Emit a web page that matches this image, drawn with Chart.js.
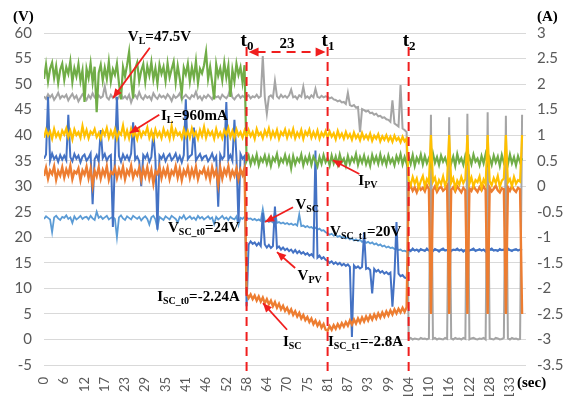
<!DOCTYPE html>
<html>
<head>
<meta charset="utf-8">
<script src="https://cdn.jsdelivr.net/npm/chart.js@4.4.0/dist/chart.umd.min.js"></script>
<style>
  html, body { margin: 0; padding: 0; background: #fff; }
</style>
</head>
<body>
<canvas id="graph" width="565" height="396"></canvas>
<script>
/* data: one sample every 0.58 s */
var sampleStep = 0.58;
var tickStep = 5.8;
var tickLabels = ["0","6","12","17","23","29","35","41","46","52","58","64","70","75","81","87","93","99","104","110","116","122","128","133"];
var eventTimes = [58, 81.2, 104.4];

// V_L (V, left axis)
var vL = [
  47.6,47.1,48.0,47.4,47.9,46.9,47.5,48.3,47.2,47.7,
  47.4,47.9,46.8,47.5,48.1,47.2,47.7,46.6,47.3,48.0,
  47.5,46.9,47.8,47.2,48.2,47.4,47.0,47.8,47.3,47.6,
  49.6,47.4,47.0,47.9,47.3,47.7,46.8,47.5,48.1,47.2,
  47.6,47.1,47.9,46.4,47.5,47.8,47.2,48.4,47.4,47.0,
  47.8,47.3,47.6,46.9,48.2,47.5,47.1,47.9,47.4,47.7,
  47.2,48.0,47.5,46.7,47.8,47.3,47.6,48.2,47.0,47.5,
  47.9,47.4,47.1,47.8,47.5,48.5,47.2,47.6,46.9,47.7,
  47.3,47.9,47.5,47.0,47.8,47.4,47.6,47.1,47.9,47.5,
  47.2,47.8,49.2,47.4,47.0,47.6,47.9,47.3,47.7,47.4,
  47.5,47.8,47.2,47.6,47.4,47.9,47.3,47.6,55.5,47.4,
  44.2,47.5,47.8,47.3,50.6,47.6,47.2,47.9,47.4,47.7,
  47.3,47.8,48.9,47.4,47.6,47.1,47.8,47.5,49.5,47.3,
  47.6,47.2,47.8,47.4,49.1,47.5,47.3,47.7,47.4,47.6,
  47.5,47.2,47.4,47.0,46.9,46.6,46.8,46.4,46.5,46.1,
  48.3,45.9,45.7,45.9,45.4,45.5,40.6,45.1,44.9,44.6,
  44.8,44.3,44.4,44.0,44.2,43.7,43.8,43.4,43.5,43.1,
  43.0,42.6,46.8,42.3,42.0,41.7,49.8,41.3,41.0,40.6,
  0.1,0.3,0.0,0.2,0.1,0.0,0.3,0.1,0.2,0.0,
  0.2,44.0,0.1,0.3,0.0,0.2,0.1,0.0,0.3,0.1,
  43.5,0.2,0.0,0.3,0.1,0.2,0.0,0.3,0.1,44.2,
  0.0,0.2,0.3,0.1,0.0,0.2,0.1,0.3,0.0,44.5,
  0.2,0.1,0.0,0.3,0.2,0.0,0.1,0.3,43.8,0.2,
  0.0,0.3,0.1,0.2,0.0,0.1,44.0
];

// V_PV (V, left axis)
var vPV = [
  35.4,36.2,47.5,35.0,36.4,35.3,35.9,34.8,36.1,35.2,
  36.0,35.1,44.0,35.7,34.9,36.3,35.4,36.0,34.7,35.8,
  36.2,35.0,35.6,36.4,26.5,35.3,36.1,34.9,41.0,35.5,
  36.3,35.0,35.8,36.1,22.0,35.4,47.5,35.9,34.8,36.2,
  35.3,36.0,35.1,36.4,42.5,35.2,35.8,34.9,30.0,36.1,
  35.5,36.3,34.8,35.7,40.5,35.2,21.5,36.0,35.4,36.2,
  34.9,35.8,36.3,35.1,35.6,36.4,35.0,35.9,34.7,36.1,
  47.0,35.3,35.9,36.2,41.5,35.0,35.7,36.3,35.2,35.8,
  36.0,34.9,35.5,36.4,35.1,35.8,26.0,36.2,35.3,35.9,
  46.5,35.2,36.1,35.0,43.0,35.7,22.8,36.3,35.4,35.9,
  6.5,18.6,19.2,18.7,19.0,18.4,18.9,18.3,24.8,18.6,
  18.0,18.5,17.9,18.3,26.0,17.9,18.2,17.6,18.0,17.5,
  17.8,17.3,17.6,17.0,17.5,16.9,17.3,16.8,17.1,16.6,
  16.9,16.4,16.7,16.2,37.0,16.0,16.4,15.8,16.1,15.6,
  15.4,15.0,15.3,14.8,15.1,14.7,15.0,14.5,14.8,14.4,
  14.7,14.2,0.5,14.5,14.0,14.3,13.9,14.2,21.0,13.8,
  14.0,13.6,9.0,13.8,13.3,13.6,13.1,13.4,12.9,13.2,
  12.8,13.1,6.4,12.6,23.0,12.9,12.4,12.6,12.1,12.0,
  17.6,17.3,17.8,17.4,17.6,17.2,17.7,17.5,17.3,17.8,
  17.4,17.6,17.3,17.7,17.5,17.2,17.6,17.8,17.4,17.5,
  17.7,17.3,17.6,17.5,17.8,17.4,17.6,17.2,17.5,17.7,
  17.4,17.6,17.8,17.3,17.5,17.7,17.4,17.6,17.2,17.5,
  17.6,17.8,17.4,17.5,17.3,17.7,17.5,17.6,17.4,17.8,
  17.5,17.3,17.6,17.7,17.4,17.6,17.5
];

// V_SC (V, left axis)
var vSC = [
  23.6,24.1,23.8,23.5,21.0,23.9,24.2,23.7,23.4,24.0,
  23.8,24.3,23.6,23.9,22.8,24.1,23.5,23.8,24.2,23.6,
  23.9,24.0,23.5,24.2,23.7,23.4,25.0,23.8,24.1,23.6,
  23.9,24.2,23.5,23.8,24.0,23.6,20.0,23.9,24.3,23.7,
  23.4,24.1,23.8,23.5,24.2,23.9,23.6,24.0,23.3,23.8,
  24.1,23.6,22.5,23.9,24.2,23.5,21.8,24.0,23.7,23.4,
  24.1,23.8,23.5,24.2,23.9,23.6,22.9,24.0,23.7,24.3,
  23.5,23.8,24.1,23.6,23.9,23.4,24.2,23.7,24.0,23.5,
  23.8,24.1,23.6,23.9,22.6,24.0,23.5,23.8,24.2,23.6,
  23.9,23.4,24.0,23.7,23.5,24.1,22.4,23.8,23.6,24.0,
  23.8,23.6,23.7,23.4,23.6,23.3,23.5,23.2,25.5,23.1,
  23.3,23.0,23.2,22.9,25.0,22.8,23.0,22.7,22.9,22.6,
  22.8,22.5,22.7,22.4,22.6,22.3,24.5,22.2,22.3,22.0,
  22.2,21.9,22.0,21.7,21.9,21.5,21.7,21.3,21.4,21.0,
  20.8,20.5,20.7,20.3,20.5,20.1,20.3,19.9,20.1,19.8,
  20.0,19.6,19.8,19.4,19.6,19.3,19.5,19.1,19.3,18.9,
  19.1,18.8,19.0,18.6,18.8,18.4,18.6,18.2,18.4,18.0,
  18.2,17.9,18.0,17.7,17.8,17.5,17.6,17.3,17.4,17.2,
  17.5,17.5,17.5,17.5,17.5,17.5,17.5,17.5,17.5,17.5,
  17.5,17.5,17.5,17.5,17.5,17.5,17.5,17.5,17.5,17.5,
  17.5,17.5,17.5,17.5,17.5,17.5,17.5,17.5,17.5,17.5,
  17.5,17.5,17.5,17.5,17.5,17.5,17.5,17.5,17.5,17.5,
  17.5,17.5,17.5,17.5,17.5,17.5,17.5,17.5,17.5,17.5,
  17.5,17.5,17.5,17.5,17.5,17.5,17.5
];

// I_L (A, right axis)
var iL = [
  0.95,1.10,0.99,1.07,0.93,1.12,0.97,1.05,0.94,1.09,
  1.01,1.13,0.96,1.08,0.92,1.11,1.00,1.06,0.95,1.18,
  0.98,1.10,0.94,1.07,1.02,1.12,0.96,1.04,0.93,1.09,
  1.00,1.14,0.95,1.08,0.97,1.11,0.93,1.06,1.01,1.19,
  0.96,1.09,0.94,1.12,0.99,1.05,0.92,1.10,0.97,1.07,
  1.02,1.15,0.95,1.08,0.93,1.11,0.98,1.06,0.94,1.12,
  0.99,1.07,0.93,1.18,0.96,1.10,1.00,1.05,0.94,1.11,
  0.97,1.08,0.95,1.13,0.99,1.06,0.93,1.10,0.98,1.16,
  0.95,1.09,1.00,1.07,0.93,1.12,0.97,1.05,0.94,1.10,
  1.01,1.14,0.96,1.08,0.94,1.11,0.99,1.06,0.95,1.09,
  0.96,1.10,0.98,1.06,0.93,1.12,1.00,1.05,0.94,1.09,
  0.99,1.13,0.95,1.07,0.97,1.10,0.93,1.06,1.00,1.11,
  0.95,1.08,0.98,1.12,0.94,1.05,0.97,1.10,0.93,1.07,
  1.00,1.11,0.95,1.06,0.96,1.09,0.93,1.05,0.98,1.08,
  0.95,1.07,0.97,1.04,0.92,1.08,0.96,1.03,0.93,1.06,
  0.95,1.02,0.91,1.05,0.94,1.01,0.90,1.04,0.93,1.00,
  0.92,1.03,0.89,0.99,0.93,1.02,0.88,0.98,0.91,1.00,
  0.89,0.97,0.87,0.99,0.90,0.95,0.86,0.97,0.88,0.93,
  0.12,0.02,0.18,0.05,0.15,-0.03,0.10,0.20,0.00,0.14,
  0.06,1.00,0.09,0.17,-0.02,0.12,0.04,0.19,0.01,0.13,
  1.00,0.07,0.16,-0.04,0.11,0.03,0.18,0.06,0.14,1.00,
  0.05,0.17,0.00,0.12,0.08,0.19,-0.03,0.13,0.04,1.00,
  0.10,0.02,0.16,0.06,0.20,-0.01,0.11,0.15,1.00,0.07,
  0.14,0.00,0.18,0.05,0.12,0.09,1.00
];

// I_PV (A, right axis)
var iPV = [
  2.10,2.38,2.05,2.30,2.42,2.12,2.35,2.02,2.28,2.40,
  2.08,2.33,2.20,2.45,2.04,2.31,2.15,2.39,2.06,2.27,
  1.65,2.30,2.12,2.41,2.03,2.34,1.45,2.22,2.38,2.07,
  2.32,2.10,2.44,2.05,2.29,2.18,2.40,2.02,1.70,2.33,
  2.15,2.37,2.63,2.08,1.72,2.30,2.42,2.06,2.26,2.39,
  2.04,2.35,2.17,2.43,2.09,2.31,2.01,2.38,2.20,2.34,
  2.06,2.41,2.13,2.29,2.44,2.03,2.36,2.11,1.80,2.32,
  2.19,2.40,2.05,2.33,2.12,2.45,2.02,2.30,2.21,2.37,
  2.63,2.10,2.34,2.04,1.70,2.39,2.16,2.31,2.07,2.42,
  2.13,2.36,1.75,2.28,2.05,2.40,2.18,2.33,2.03,2.37,
  0.50,0.60,0.43,0.57,0.46,0.62,0.41,0.55,0.48,0.60,
  0.44,0.58,0.40,0.56,0.49,0.63,0.42,0.54,0.47,0.61,
  0.45,0.57,0.35,0.59,0.43,0.55,0.48,0.62,0.41,0.56,
  0.46,0.60,0.42,0.58,0.50,0.39,0.57,0.44,0.61,0.47,
  0.55,0.41,0.60,0.45,0.58,0.43,0.62,0.47,0.54,0.40,
  0.59,0.44,0.56,0.48,0.63,0.42,0.57,0.46,0.60,0.43,
  0.55,0.40,0.61,0.47,0.58,0.44,0.62,0.45,0.56,0.42,
  0.60,0.46,0.54,0.41,0.59,0.48,0.63,0.43,0.57,0.45,
  0.58,0.44,0.61,0.40,0.56,0.47,0.62,0.43,0.59,0.45,
  0.55,0.41,0.64,0.46,0.57,0.42,0.60,0.48,0.56,0.43,
  0.61,0.45,0.58,0.40,0.63,0.47,0.55,0.42,0.60,0.46,
  0.57,0.43,0.62,0.48,0.54,0.41,0.59,0.45,0.63,0.44,
  0.56,0.42,0.60,0.47,0.58,0.40,0.61,0.46,0.55,0.43,
  0.62,0.45,0.57,0.41,0.59,0.47,0.55
];

// I_SC (A, right axis)
var iSC = [
  0.20,0.36,0.15,0.31,0.24,0.39,0.13,0.30,0.21,0.37,
  0.17,0.33,0.22,0.40,0.14,0.29,0.25,0.35,0.12,0.31,
  0.23,0.38,0.16,0.34,0.02,0.30,0.19,0.37,0.15,0.32,
  0.21,0.39,0.13,0.28,0.24,0.36,0.16,0.33,0.20,0.38,
  0.14,0.31,0.23,0.40,0.17,0.30,0.22,0.36,0.13,0.34,
  0.19,0.37,0.15,0.32,0.05,0.29,0.24,0.38,0.16,0.33,
  0.21,0.36,0.14,0.30,0.23,0.39,0.17,0.34,0.12,0.31,
  0.22,0.37,0.16,0.33,0.20,0.38,0.14,0.29,0.25,0.35,
  0.18,0.32,0.13,0.37,0.21,0.31,0.03,0.36,0.15,0.33,
  0.23,0.39,0.17,0.30,0.20,0.35,0.14,0.32,0.22,0.36,
  -2.10,-2.19,-2.12,-2.21,-2.14,-2.24,-2.16,-2.26,-2.18,-2.29,
  -2.21,-2.31,-2.24,-2.35,-2.27,-2.38,-2.30,-2.41,-2.34,-2.44,
  -2.38,-2.48,-2.41,-2.52,-2.45,-2.55,-2.48,-2.59,-2.52,-2.62,
  -2.56,-2.66,-2.59,-2.70,-2.63,-2.73,-2.66,-2.77,-2.70,-2.81,
  -2.83,-2.74,-2.81,-2.72,-2.79,-2.70,-2.77,-2.68,-2.75,-2.66,
  -2.73,-2.63,-2.71,-2.61,-2.69,-2.59,-2.67,-2.57,-2.65,-2.55,
  -2.63,-2.53,-2.61,-2.51,-2.59,-2.49,-2.57,-2.47,-2.55,-2.45,
  -2.53,-2.43,-2.51,-2.41,-2.49,-2.40,-2.47,-2.38,-2.46,-2.37,
  -0.05,0.01,-0.09,-0.02,-0.12,0.00,-0.07,-0.03,-0.10,0.02,
  -0.06,-2.50,-0.08,0.00,-0.11,-0.04,-0.01,-0.09,-0.05,0.01,
  -2.50,-0.07,-0.02,-0.10,0.00,-0.06,-0.12,-0.03,-0.08,-2.50,
  -0.04,-0.09,0.01,-0.06,-0.11,-0.02,-0.08,0.00,-0.07,-2.50,
  -0.03,-0.10,-0.05,0.01,-0.08,-0.12,-0.04,-0.06,-2.50,-0.02,
  -0.09,0.00,-0.07,-0.11,-0.03,-0.06,-2.50
];

var time = vL.map(function (_, k) { return +(k * sampleStep).toFixed(2); });
function pts(arr) { return arr.map(function (v, k) { return { x: time[k], y: v }; }); }

var red = "#f01e1e";
var serif = '"Liberation Serif", "Times New Roman", serif';

function richText(ctx, parts, x, y, size) {
  var cx = x;
  parts.forEach(function (p) {
    var fs = p[1] ? Math.round(size * 0.68) : size;
    ctx.font = "bold " + fs + "px " + serif;
    ctx.fillText(p[0], cx, p[1] ? y + size * 0.28 : y);
    cx += ctx.measureText(p[0]).width;
  });
}

function arrowHead(ctx, x1, y1, x2, y2, len, half) {
  var a = Math.atan2(y2 - y1, x2 - x1);
  ctx.beginPath();
  ctx.moveTo(x2, y2);
  ctx.lineTo(x2 - len * Math.cos(a) + half * Math.sin(a), y2 - len * Math.sin(a) - half * Math.cos(a));
  ctx.lineTo(x2 - len * Math.cos(a) - half * Math.sin(a), y2 - len * Math.sin(a) + half * Math.cos(a));
  ctx.closePath();
  ctx.fill();
}

// labels placed in data units (seconds, volts)
var notes = [
  { parts: [["V",0],["L",1],["=47.5V",0]], at: [24.0, 59.2], from: [30.3, 57.1], to: [19.8, 47.3] },
  { parts: [["I",0],["L",1],["=960mA",0]], at: [33.5, 43.8], from: [33.0, 44.0], to: [24.6, 40.4] },
  { parts: [["I",0],["PV",1]], at: [90.0, 31.0], from: [90.3, 32.4], to: [82.7, 35.1] },
  { parts: [["V",0],["SC",1]], at: [72.0, 26.3], from: [71.3, 25.9], to: [63.3, 23.0] },
  { parts: [["V",0],["PV",1]], at: [72.6, 12.4], from: [71.9, 14.0], to: [66.7, 17.1] },
  { parts: [["V",0],["SC_t0",1],["=24V",0]], at: [35.5, 21.8] },
  { parts: [["V",0],["SC_t1",1],["=20V",0]], at: [81.9, 21.0] },
  { parts: [["I",0],["SC_t0",1],["=-2.24A",0]], at: [32.4, 8.3] },
  { parts: [["I",0],["SC_t1",1],["=-2.8A",0]], at: [81.3, -0.6] },
  { parts: [["I",0],["SC",1]], at: [68.4, -0.6], from: [69.6, 1.9], to: [62.7, 7.1] }
];

var notePlugin = {
  id: "notes",
  afterDraw: function (chart) {
    var ctx = chart.ctx, area = chart.chartArea;
    var xs = chart.scales.x, ys = chart.scales.y;
    function px(t) { return xs.getPixelForValue(t); }
    function py(v) { return ys.getPixelForValue(v); }
    ctx.save();

    // dashed event lines
    ctx.strokeStyle = red;
    ctx.fillStyle = red;
    ctx.lineWidth = 2;
    ctx.setLineDash([9, 6]);
    eventTimes.forEach(function (t) {
      ctx.beginPath();
      ctx.moveTo(px(t), area.top + 14);
      ctx.lineTo(px(t), area.bottom + 8);
      ctx.stroke();
    });

    // interval arrow t0 -> t1
    var ay = area.top + 19, ax0 = px(eventTimes[0]) + 2, ax1 = px(eventTimes[1]) - 2;
    ctx.beginPath();
    ctx.moveTo(ax0 + 8, ay);
    ctx.lineTo(ax1 - 8, ay);
    ctx.stroke();
    ctx.setLineDash([]);
    arrowHead(ctx, ax1 - 20, ay, ax1, ay, 10, 4.5);
    arrowHead(ctx, ax0 + 20, ay, ax0, ay, 10, 4.5);

    ctx.fillStyle = "#000";
    ctx.textBaseline = "middle";
    ctx.textAlign = "center";
    ctx.font = "bold 15px " + serif;
    ctx.fillText(String(Math.round(eventTimes[1] - eventTimes[0])), (ax0 + ax1) / 2, area.top + 11);

    ctx.textAlign = "left";
    eventTimes.forEach(function (t, i) {
      richText(ctx, [["t",0],[String(i),1]], px(t) - 6, area.top + 8, 19);
    });

    // arrows and text notes
    notes.forEach(function (n) {
      if (n.from) {
        var x1 = px(n.from[0]), y1 = py(n.from[1]), x2 = px(n.to[0]), y2 = py(n.to[1]);
        ctx.strokeStyle = red;
        ctx.fillStyle = red;
        ctx.lineWidth = 1.8;
        ctx.beginPath();
        ctx.moveTo(x1, y1);
        ctx.lineTo(x2, y2);
        ctx.stroke();
        arrowHead(ctx, x1, y1, x2, y2, 9, 4);
      }
      ctx.fillStyle = "#000";
      richText(ctx, n.parts, px(n.at[0]), py(n.at[1]), 15);
    });

    // axis units
    ctx.font = "bold 15px " + serif;
    ctx.fillText("(V)", 13, 17);
    ctx.fillText("(A)", 537, 17);
    ctx.fillText("(sec)", 517, 383);
    ctx.restore();
  }
};

function line(label, arr, color, axis, width) {
  return {
    label: label,
    data: pts(arr),
    yAxisID: axis,
    borderColor: color,
    backgroundColor: color,
    borderWidth: width,
    pointRadius: 0,
    tension: 0,
    fill: false
  };
}

var tickFont = { family: "Lato", size: 15 };
var graph = document.getElementById("graph").getContext("2d");

var myChart = new Chart(graph, {
  type: "line",
  data: {
    datasets: [
      line("I_L", iL, "#ffc000", "y1", 2.2),
      line("I_PV", iPV, "#70ad47", "y1", 2.2),
      line("I_SC", iSC, "#ed7d31", "y1", 2.4),
      line("V_PV", vPV, "#4472c4", "y", 2),
      line("V_SC", vSC, "#5b9bd5", "y", 1.8),
      line("V_L", vL, "#a5a5a5", "y", 2)
    ]
  },
  options: {
    responsive: false,
    animation: false,
    devicePixelRatio: 1,
    layout: { padding: { top: 33, left: 0, right: 0, bottom: 0 } },
    plugins: { legend: { display: false }, tooltip: { enabled: false } },
    scales: {
      x: {
        type: "linear",
        min: 0,
        max: 138,
        grid: { display: false, drawTicks: false },
        border: { display: false },
        afterBuildTicks: function (s) {
          s.ticks = tickLabels.map(function (l, i) { return { value: i * tickStep }; });
        },
        afterFit: function (s) { s.height = 31; },
        ticks: {
          autoSkip: false,
          minRotation: 90,
          maxRotation: 90,
          padding: 12,
          color: "#595959",
          font: { family: "Lato", size: 13 },
          callback: function (v, i) { return tickLabels[i]; }
        }
      },
      y: {
        position: "left",
        min: -5,
        max: 60,
        grid: { color: "#d9d9d9", drawTicks: false },
        border: { display: false },
        afterFit: function (s) { s.width = 44; },
        ticks: { stepSize: 5, padding: 12, color: "#595959", font: tickFont }
      },
      y1: {
        position: "right",
        min: -3.5,
        max: 3,
        grid: { display: false, drawTicks: false },
        border: { display: false },
        afterFit: function (s) { s.width = 39; },
        ticks: {
          stepSize: 0.5,
          padding: 11,
          color: "#595959",
          font: tickFont,
          callback: function (v) { return String(+v.toFixed(1)); }
        }
      }
    }
  },
  plugins: [notePlugin]
});
</script>
</body>
</html>
